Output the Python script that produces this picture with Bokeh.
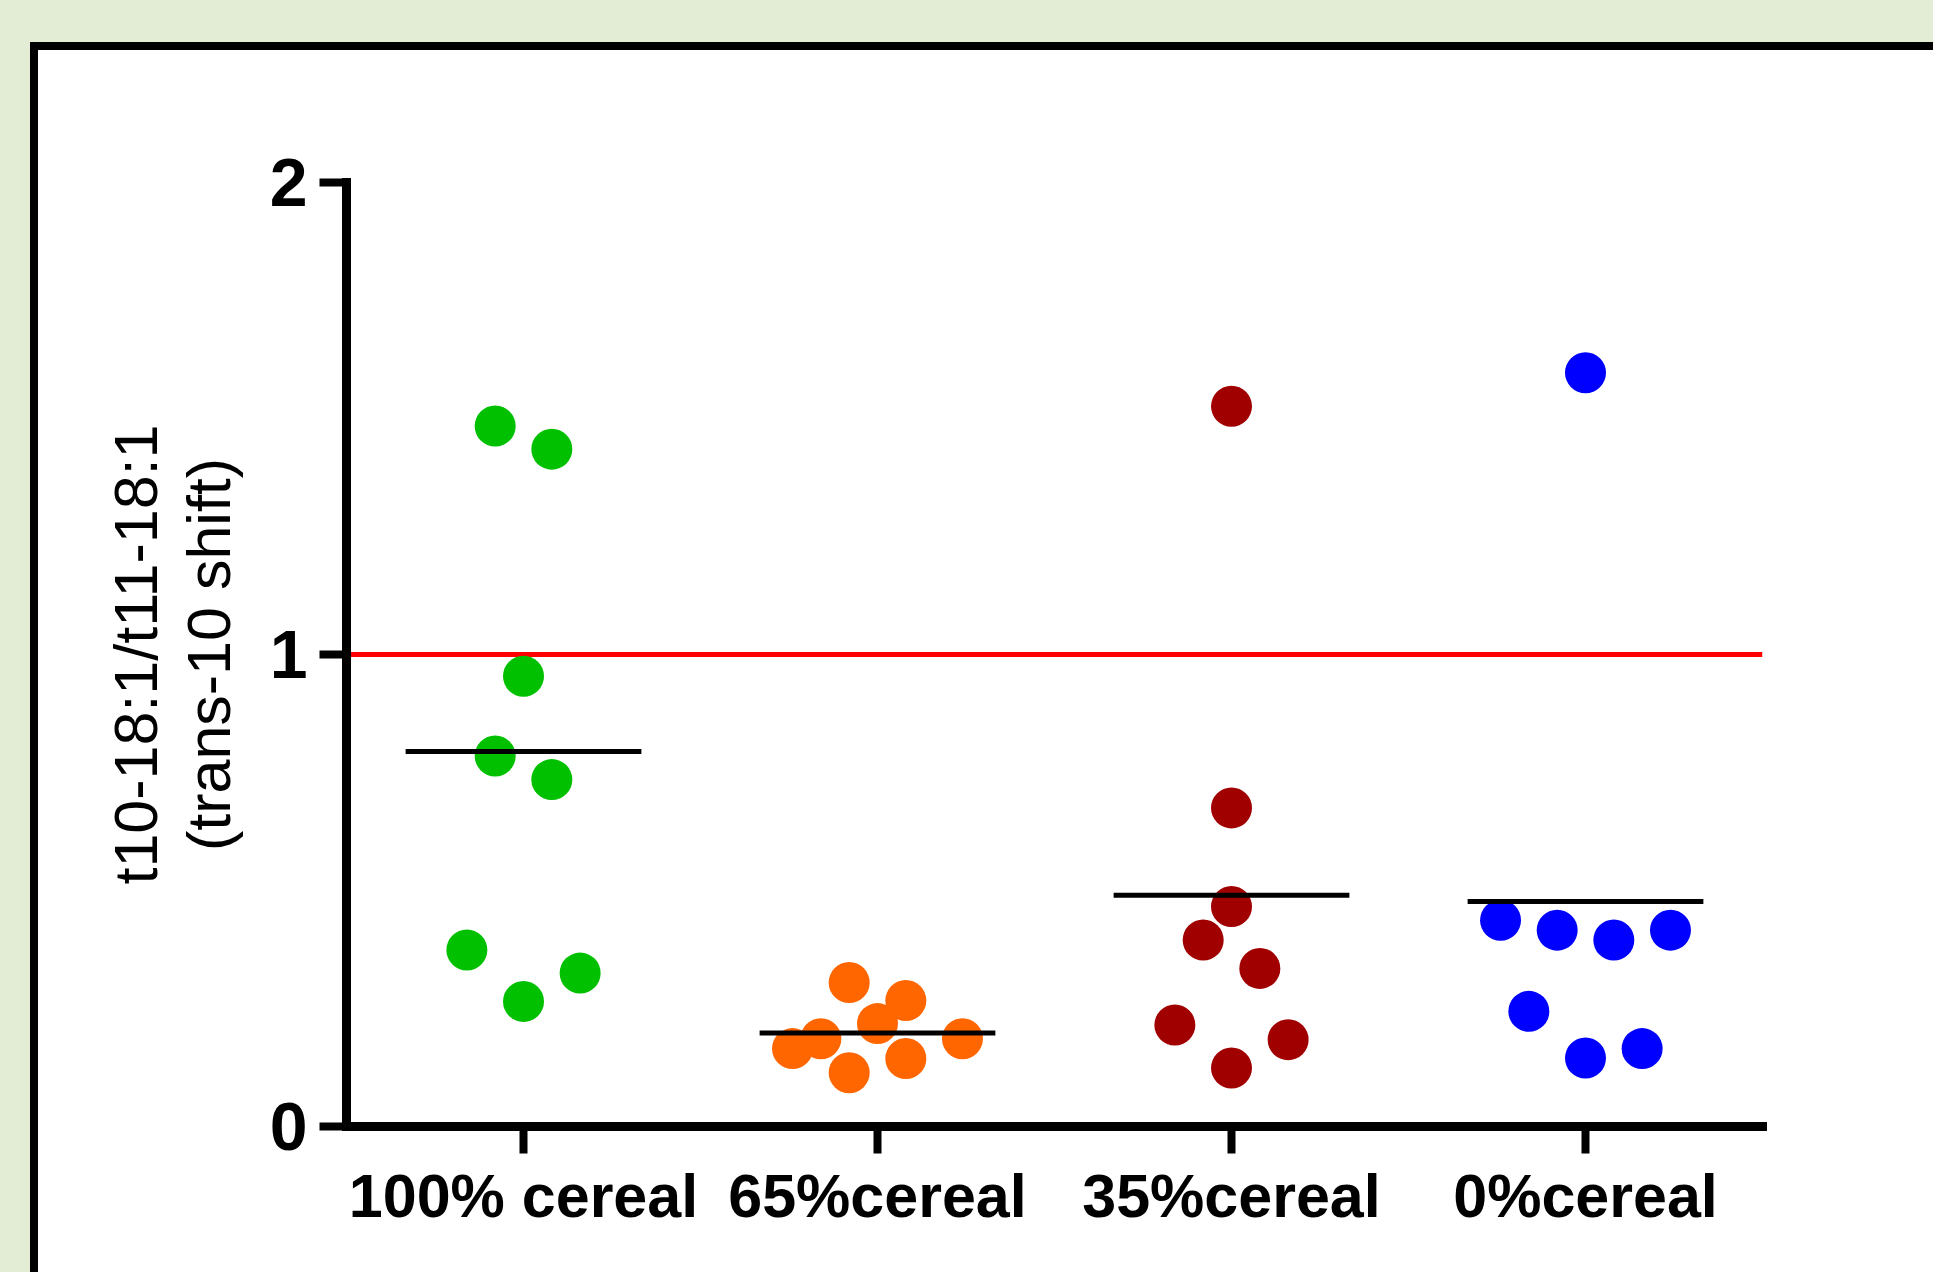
import numpy as np
from bokeh.plotting import figure
from bokeh.models import FixedTicker, Span, Range1d
from bokeh.layouts import column
from bokeh.embed import file_html
from bokeh.resources import INLINE

# ---------------- data ----------------
categories = ["100% cereal", "65%cereal", "35%cereal", "0%cereal"]
colors = ["#00C000", "#FF6600", "#A00000", "#0000FF"]

cereal100 = [1.484, 1.435, 0.954, 0.785, 0.735, 0.374, 0.325, 0.265]
cereal100_slot = [-1, 1, 0, -1, 1, -2, 2, 0]
cereal65 = [0.305, 0.267, 0.218, 0.186, 0.165, 0.186, 0.144, 0.114]
cereal65_slot = [-1, 1, 0, -2, -3, 3, 1, -1]
cereal35 = [1.526, 0.675, 0.466, 0.395, 0.335, 0.215, 0.184, 0.124]
cereal35_slot = [0, 0, 0, -1, 1, -2, 2, 0]
cereal0 = [1.597, 0.437, 0.416, 0.395, 0.416, 0.244, 0.165, 0.145]
cereal0_slot = [0, -3, -1, 1, 3, -2, 2, 0]

y_ticks = [0, 1, 2]
reference_ratio = 1.0
y_label = "t10-18:1/t11-18:1\n(trans-10 shift)"

groups = [cereal100, cereal65, cereal35, cereal0]
slots = [cereal100_slot, cereal65_slot, cereal35_slot, cereal0_slot]

# ---------------- page / style ----------------
BG = "#E3ECD5"
try:
    from bokeh.models import GlobalInlineStyleSheet
    sheets = [GlobalInlineStyleSheet(css="html, body {margin:0 !important; padding:0; background-color:%s; overflow:hidden;}" % BG)]
    W, H = 1933 - 38, 1272 - 50
except Exception:
    sheets = []
    W, H = 1917 - 38, 1256 - 50

FONT = "Liberation Sans"
slot_w = 0.08

p = figure(width=W, height=H, x_range=Range1d(-0.5, 3.5), y_range=Range1d(0, 2),
           output_backend="svg", toolbar_location=None,
           min_border_left=308, min_border_top=132,
           min_border_right=W - 308 - 1416, min_border_bottom=H - 132 - 944,
           styles={"background-color": "white"})
p.background_fill_color = "white"
p.border_fill_color = "white"
p.outline_line_color = None
p.grid.visible = False

# reference line at ratio 1
p.add_layout(Span(location=reference_ratio, dimension="width", line_color="#FF0000",
                  line_width=5, level="underlay"))

for i, (vals, sl, col) in enumerate(zip(groups, slots, colors)):
    xs = [i + s * slot_w for s in sl]
    p.scatter(xs, vals, size=41, marker="circle", fill_color=col, line_color=None)
for i, vals in enumerate(groups):
    m = float(np.mean(vals))
    p.segment(x0=[i - 0.333], x1=[i + 0.333], y0=[m], y1=[m], line_color="black", line_width=5)

xa = p.xaxis[0]
xa.ticker = FixedTicker(ticks=list(range(len(categories))))
xa.major_label_overrides = {i: c for i, c in enumerate(categories)}
ya = p.yaxis[0]
ya.ticker = FixedTicker(ticks=y_ticks)
ya.axis_label = y_label
ya.axis_label_text_font = FONT
ya.axis_label_text_font_style = "normal"
ya.axis_label_text_font_size = "61px"
ya.axis_label_text_color = "black"
ya.axis_label_text_line_height = 1.07
ya.axis_label_standoff = 24

for ax in (xa, ya):
    ax.axis_line_width = 9
    ax.axis_line_color = "black"
    ax.axis_line_cap = "square"
    ax.major_tick_line_width = 8
    ax.major_tick_line_color = "black"
    ax.major_tick_out = 27
    ax.major_tick_in = 0
    ax.minor_tick_out = 0
    ax.minor_tick_in = 0
    ax.major_label_text_font = FONT
    ax.major_label_text_font_style = "bold"
    ax.major_label_text_color = "black"
xa.major_label_text_font_size = "61px"
xa.major_label_standoff = 8
ya.major_label_text_font_size = "68px"
ya.major_label_standoff = 12

p.margin = (8, 0, 0, 8)
inner = column(p, margin=(42, 0, 0, 30), styles={"background-color": "black"})
outer = column(inner, styles={"background-color": BG}, stylesheets=sheets)

open("out.html", "w").write(file_html(outer, INLINE))
